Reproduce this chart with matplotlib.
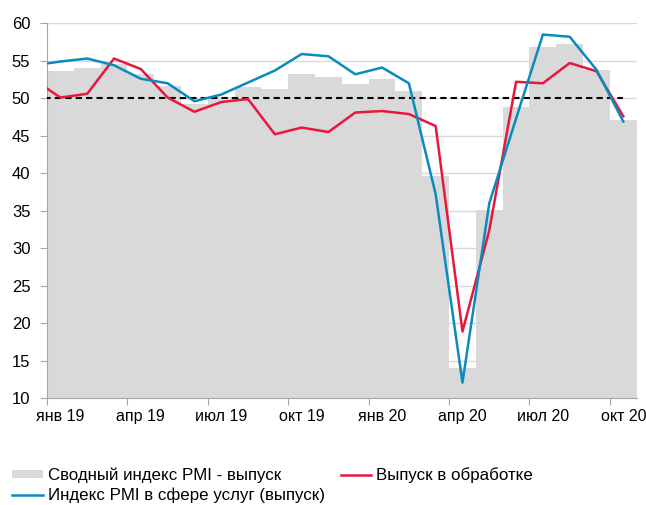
import numpy as np
import matplotlib
matplotlib.use("Agg")
import matplotlib.pyplot as plt
from matplotlib.lines import Line2D
from matplotlib.patches import Patch

plt.rcParams['font.family'] = ['Liberation Sans', 'DejaVu Sans']

# monthly data, янв 19 .. окт 20 (22 months)
tick_labels = ['янв 19', 'апр 19', 'июл 19', 'окт 19', 'янв 20', 'апр 20', 'июл 20', 'окт 20']
composite = [53.6, 54.1, 54.6, 53.2, 51.6, 49.2, 50.2, 51.5, 51.3, 53.3, 52.9,
             51.9, 52.6, 51.0, 39.6, 14.0, 35.1, 48.9, 56.8, 57.3, 53.8, 47.1]
# lines start at дек 18 (clipped by the axis edge)
manufacturing = [52.5, 50.1, 50.6, 55.3, 53.9, 50.1, 48.2, 49.5, 49.9, 45.2, 46.1, 45.5,
                 48.1, 48.3, 47.9, 46.3, 18.9, 32.4, 52.2, 52.0, 54.7, 53.6, 47.6]
services = [54.4, 54.9, 55.3, 54.4, 52.6, 52.0, 49.6, 50.5, 52.1, 53.7, 55.9, 55.6,
            53.2, 54.1, 52.0, 37.2, 12.1, 36.0, 47.3, 58.5, 58.2, 53.8, 46.9]
threshold = 50

GRAY = '#d9d9d9'
RED = '#e8173c'
BLUE = '#0a8bc0'

x_bar = np.arange(len(composite))
x_line = np.arange(-1, len(composite))

fig = plt.figure(figsize=(6.46, 5.05), dpi=100)
ax = fig.add_axes([0.0728, 0.2113, 0.9128, 0.7426])

ax.bar(x_bar, composite, width=1.0, color=GRAY, zorder=2)
ax.plot(x_line, [threshold] * len(x_line), color='black', lw=1.5, ls=(0, (3, 2)), zorder=3)
ax.plot(x_line, manufacturing, color=RED, lw=1.8, zorder=4)
ax.plot(x_line, services, color=BLUE, lw=1.8, zorder=5)

ax.set_xlim(-0.5, len(composite) - 0.5)
ax.set_ylim(10, 60)
ax.set_yticks(np.arange(10, 61, 5))
ax.yaxis.grid(True, color=GRAY, lw=1, zorder=0)
ax.set_axisbelow(True)

# tick marks on quarter boundaries, labels centred on the month
ax.set_xticks(np.arange(-0.5, len(composite), 3))
ax.set_xticklabels([])
ax.set_xticks(np.arange(0, len(composite), 3), minor=True)
ax.set_xticklabels(tick_labels, minor=True)
ax.tick_params(axis='x', which='minor', length=0, pad=8, labelsize=11.5)
ax.tick_params(axis='x', which='major', length=5, color='#a6a6a6')
ax.tick_params(axis='y', length=5, color='#a6a6a6', pad=7, labelsize=12)

for s in ['top', 'right']:
    ax.spines[s].set_visible(False)
for s in ['left', 'bottom']:
    ax.spines[s].set_color('#a6a6a6')

handles = [Patch(facecolor=GRAY, edgecolor='none'),
           Line2D([], [], color=BLUE, lw=1.8),
           Line2D([], [], color=RED, lw=1.8)]
labels = ['Сводный индекс PMI - выпуск',
          'Индекс PMI в сфере услуг (выпуск)',
          'Выпуск в обработке']
fig.legend(handles, labels, ncol=2, loc='upper left', bbox_to_anchor=(0.0186, 0.075),
           frameon=False, fontsize=12.2, handlelength=1.8, handleheight=0.4,
           handletextpad=0.3, columnspacing=0.95, labelspacing=0.25, borderpad=0,
           borderaxespad=0)

fig.savefig('out.png', dpi=100)
